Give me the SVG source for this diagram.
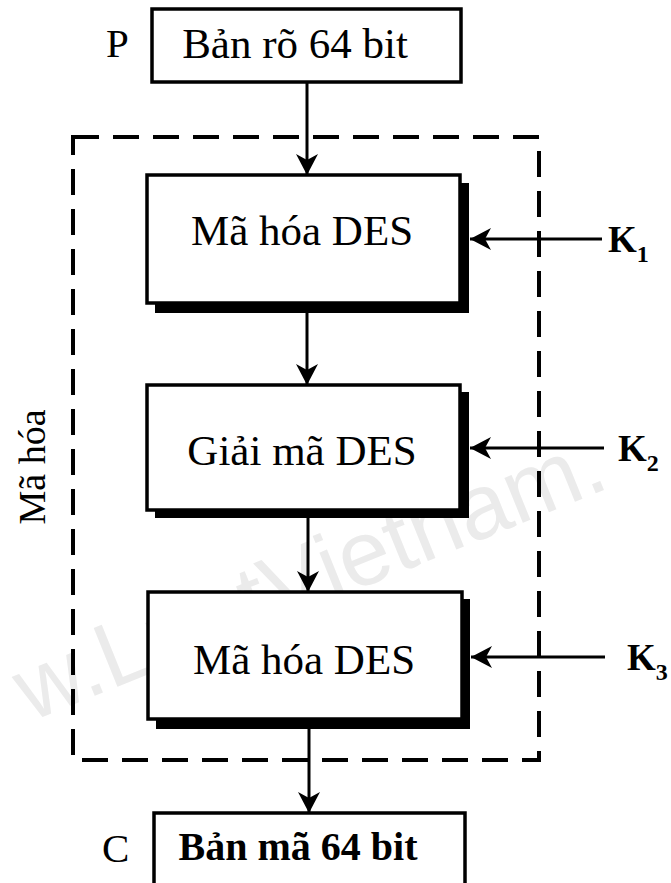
<svg xmlns="http://www.w3.org/2000/svg" width="671" height="883" viewBox="0 0 671 883">
<defs>
<marker id="ah" markerWidth="22" markerHeight="24" refX="21" refY="12" orient="auto" markerUnits="userSpaceOnUse">
<path d="M0,1 L21,12 L0,23 L6,12 Z" fill="#000"/>
</marker>
</defs>
<style>
.t{font-family:"Liberation Serif","Times New Roman",serif;fill:#000}
.box{fill:#fff;stroke:#000;stroke-width:3.5}
.sh{fill:#000}
.ln{stroke:#000;stroke-width:3;fill:none}
.dash{fill:none;stroke:#000;stroke-width:4;stroke-dasharray:26 14}
.wm{font-family:"Liberation Sans",Arial,sans-serif;fill:#ebebeb}
</style>
<rect width="671" height="883" fill="#fff"/>
<text class="wm" font-size="92" transform="translate(30,722) rotate(-22)">w.LuatVietnam.</text>
<rect class="dash" x="73" y="137" width="466" height="623"/>
<text class="t" font-size="38" transform="translate(45,467) rotate(-90)" text-anchor="middle">Mã hóa</text>
<g id="plain">
<text class="t" x="106" y="57" font-size="41">P</text>
<rect class="box" x="152" y="9" width="309" height="73" stroke-width="3"/>
<text class="t" x="295" y="58" font-size="43" text-anchor="middle">Bản rõ 64 bit</text>
</g>
<g id="enc1">
<rect class="sh" x="155" y="183" width="314" height="130"/>
<rect class="box" x="147" y="175" width="313" height="128"/>
<text class="t" x="302" y="245" font-size="43" text-anchor="middle">Mã hóa DES</text>
</g>
<g id="dec2">
<rect class="sh" x="155" y="392" width="314" height="126"/>
<rect class="box" x="147" y="385" width="313" height="125"/>
<text class="t" x="302" y="465" font-size="43" text-anchor="middle">Giải mã DES</text>
</g>
<g id="enc3">
<rect class="sh" x="156" y="599" width="314" height="130"/>
<rect class="box" x="148" y="592" width="314" height="127"/>
<text class="t" x="304" y="674" font-size="43" text-anchor="middle">Mã hóa DES</text>
</g>
<g id="cipher">
<text class="t" x="102" y="862" font-size="41">C</text>
<rect class="box" x="154" y="813" width="311" height="75" fill="#eeeeee" stroke-width="3"/>
<text class="t" x="298" y="860" font-size="40" font-weight="bold" text-anchor="middle">Bản mã 64 bit</text>
</g>
<g id="k1"><text class="t" x="608" y="252" font-size="37" font-weight="bold">K<tspan font-size="24" dy="10">1</tspan></text></g>
<g id="k2"><text class="t" x="618" y="461" font-size="37" font-weight="bold">K<tspan font-size="24" dy="10">2</tspan></text></g>
<g id="k3"><text class="t" x="627" y="670" font-size="37" font-weight="bold">K<tspan font-size="24" dy="10">3</tspan></text></g>
<g id="connectors">
<line class="ln" x1="307" y1="82" x2="307" y2="175" marker-end="url(#ah)"/>
<line class="ln" x1="307" y1="313" x2="307" y2="385" marker-end="url(#ah)"/>
<line class="ln" x1="308" y1="518" x2="308" y2="592" marker-end="url(#ah)"/>
<line class="ln" x1="309" y1="729" x2="309" y2="813" marker-end="url(#ah)"/>
<line class="ln" x1="602" y1="239" x2="470" y2="239" marker-end="url(#ah)"/>
<line class="ln" x1="604" y1="448" x2="470" y2="448" marker-end="url(#ah)"/>
<line class="ln" x1="605" y1="657" x2="471" y2="657" marker-end="url(#ah)"/>
</g>
</svg>
